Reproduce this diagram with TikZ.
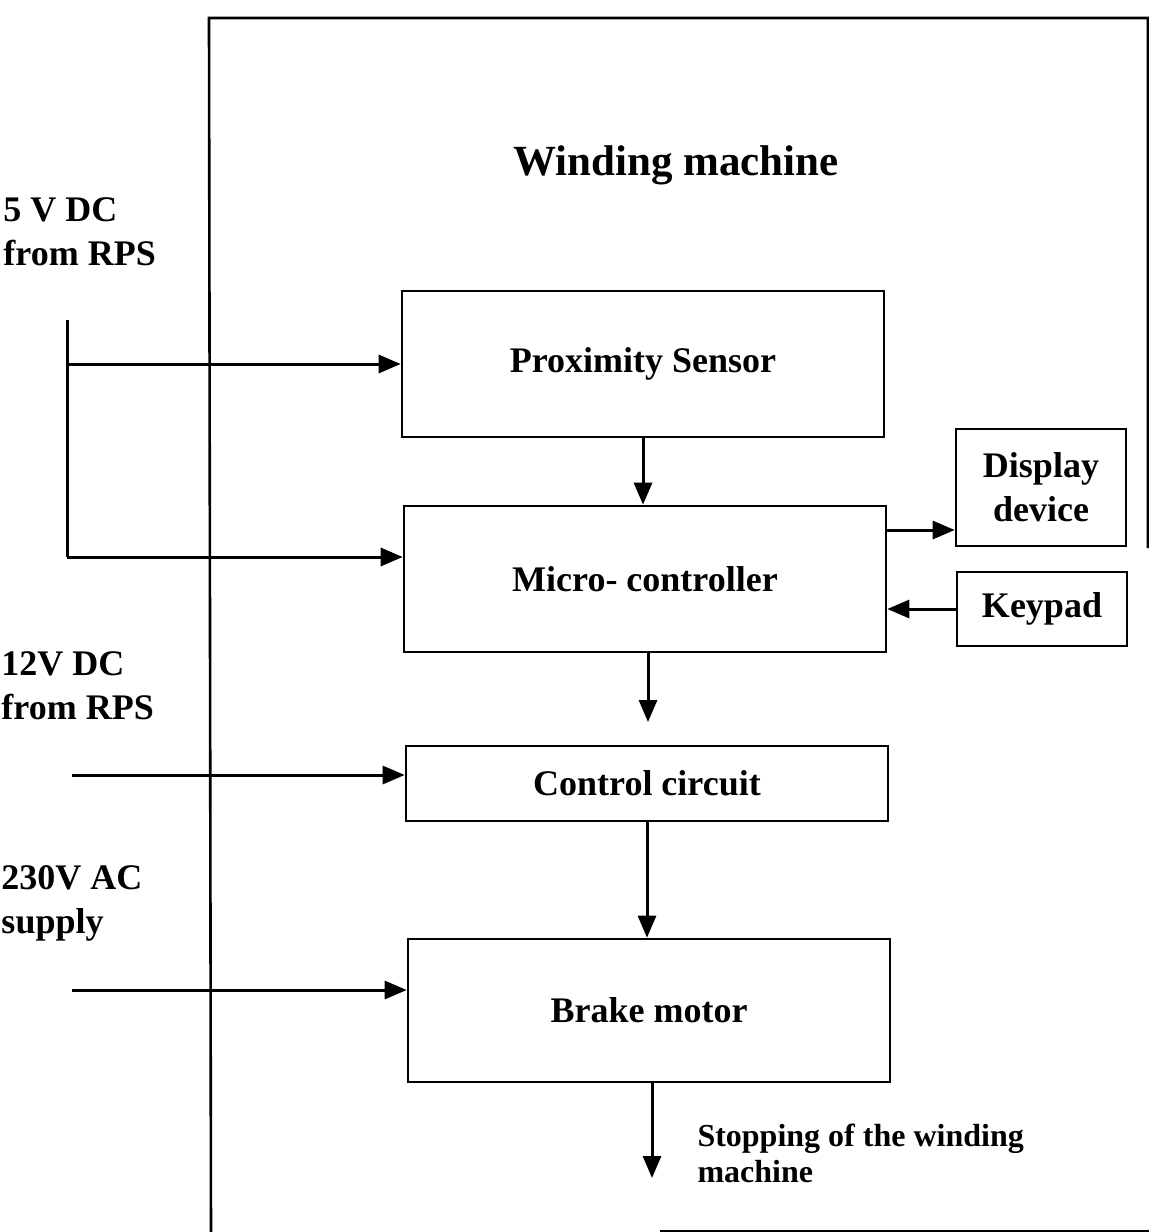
\documentclass[tikz,border=0pt]{standalone}
\usepackage{fontspec}
\setmainfont{Liberation Serif}
\usepackage{tikz}
\usetikzlibrary{arrows.meta}

\tikzset{
  block/.style={draw, line width=1.3pt, inner sep=0pt, minimum width=241pt,
    font=\fontsize{18}{22}\selectfont\bfseries},
  lbl/.style={inner sep=0pt, align=left, anchor=west,
    font=\fontsize{18}{22}\selectfont\bfseries},
}

\begin{document}
\begin{tikzpicture}[x=0.5pt, y=-0.5pt, >={Triangle[length=11pt,width=9pt]}, line width=1.5pt]
\useasboundingbox (0,0) rectangle (1149,1232);

% Outer frame of the machine
\draw[line width=1.3pt] (211,1240) -- (209,18) -- (1148,18) -- (1148,548);
\draw[line width=1.3pt] (660,1231) -- (1152,1231);
\node[font=\fontsize{21.5}{26}\selectfont\bfseries] (title) at (676,165) {Winding machine};

% Blocks
\node[block, minimum height=73pt] (prox) at (643,364) {Proximity Sensor};
\node[block, minimum height=73pt] (micro) at (645,579) {Micro- controller};
\node[block, minimum height=37.5pt] (ctrl) at (647,783.5) {Control circuit};
\node[block, minimum height=71.5pt] (brake) at (649,1010.5) {Brake motor};
\node[block, minimum width=85pt, minimum height=58.5pt, align=center] (disp) at (1041,487.5) {Display\\device};
\node[block, minimum width=85pt, minimum height=37pt] (keypad) at (1042,609) {Keypad};

% Supply labels
\node[lbl] (l5) at (2,232) {5 V DC\\from RPS};
\node[lbl] (l12) at (0,686) {12V DC\\from RPS};
\node[lbl] (l230) at (0,903) {230V AC\\supply};

% 5V feed
\coordinate (v5) at (67,320);
\coordinate (v5bot) at (67,557);
\draw (v5) -- (v5bot);
\draw[->] (v5 |- prox) -- (prox.west);
\draw[->] (v5bot) -- (v5bot -| micro.west);

% 12V and 230V feeds
\coordinate (v12) at (72,775);
\coordinate (v230) at (72,990);
\draw[->] (v12) -- (v12 -| ctrl.west);
\draw[->] (v230) -- (v230 -| brake.west);

% Signal path
\draw[->] (prox.south) -- (prox.south |- micro.north);
\coordinate (mout) at (648,722);
\draw[->] (micro.south -| mout) -- (mout);
\draw[->] (ctrl.south) -- (ctrl.south |- brake.north);
\coordinate (stop) at (652,1178);
\draw[->] (brake.south -| stop) -- (stop);
\node[lbl, font=\fontsize{16}{18}\selectfont\bfseries] (stoptxt) at (696,1153) {Stopping of the winding\\machine};

% Display and keypad
\coordinate (dy) at (0,530);
\draw[->] (micro.east |- dy) -- (disp.west |- dy);
\draw[->] (keypad.west) -- (keypad.west -| micro.east);

\end{tikzpicture}
\end{document}
